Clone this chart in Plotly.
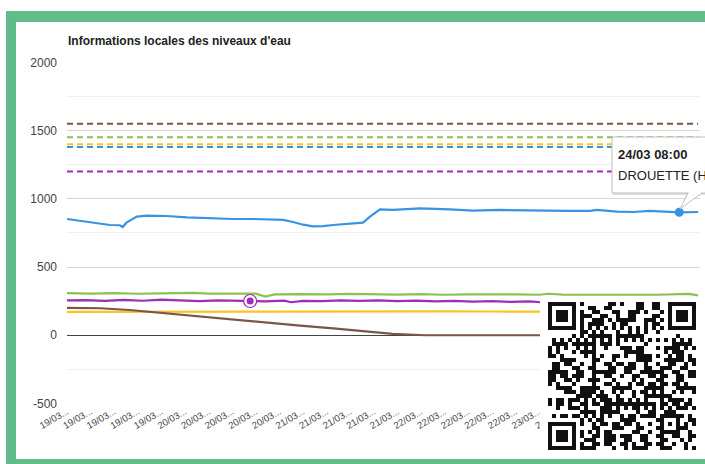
import plotly.graph_objects as go
import pandas as pd

W, H = 705, 464
T0 = pd.Timestamp("2024-03-19 00:00")

title_text = "Informations locales des niveaux d'eau"
tooltip_time = "24/03 08:00"
tooltip_series = "DROUETTE (Hauteur)"

# ---- data (hours since 19/03 00:00, values) ----
blue_h = [0, 4.9, 7.0, 9.1, 11.2, 11.8, 12.6, 13.3, 14.8, 16.9, 21.1, 25.4, 29.6, 35.2, 39.4,
          43.6, 45.8, 47.9, 50.0, 52.1, 54.2, 56.4, 59.3, 62.7, 64.2, 66.3, 69.1, 74.8, 81.1,
          86.0, 91.7, 98.7, 105.9, 110.8, 112.3, 116.5, 119.9, 123.5, 129.7, 133.7]
blue_v = [852, 828, 815, 808, 806, 793, 825, 840, 869, 876, 874, 864, 857, 852, 852,
          850, 845, 830, 810, 798, 800, 808, 818, 825, 869, 923, 918, 930, 923,
          913, 918, 913, 911, 911, 918, 906, 903, 911, 901, 903]

green_h = [0, 5, 10, 15, 20, 26.7, 30, 35, 40, 42, 44, 50, 55, 60, 65, 70, 75, 80, 85, 90,
           95, 100, 102, 105, 110, 115, 120, 125, 131.8, 133.7]
green_v = [308, 305, 309, 304, 307, 311, 305, 303, 305, 284, 300, 302, 299, 303, 300, 298, 301,
           297, 300, 297, 299, 297, 304, 298, 297, 298, 296, 297, 303, 292]

purple_h = [0, 4, 8, 12, 16, 20, 24, 28, 32, 36, 38.8, 42, 46, 47.5, 50, 54, 58, 62, 66, 70,
            74, 78, 82, 86, 90, 94, 98, 101]
purple_v = [256, 258, 252, 259, 253, 261, 255, 250, 255, 252, 251, 249, 254, 242, 252, 250, 256,
            252, 255, 250, 254, 248, 252, 246, 250, 245, 248, 240]

yellow_h = [0, 10, 20, 30, 40, 50, 60, 70, 80, 90, 101]
yellow_v = [172, 173, 174, 174, 175, 175, 176, 175, 175, 174, 173]

brown_h = [0, 7, 13.3, 17.6, 28.2, 38.8, 49.4, 56.4, 62.1, 69, 75.8, 101]
brown_v = [200, 198, 185, 171, 136, 102, 71, 51, 34, 10, 0, 0]

# alert thresholds (dashed)
seuil_brown = 1550
seuil_green = 1450
seuil_yellow = 1400
seuil_blue = 1380
seuil_purple = 1200
seuil_h = [0, 133.7]

# highlighted points
hover_blue = (129.7, 901)
hover_purple = (38.8, 251)

tick_hours = [0, 5, 10, 15, 20, 25, 30, 35, 40, 45, 50, 55, 60, 65, 70, 75, 80, 85, 90, 95,
              100, 105, 110, 115, 120, 125, 130]
tick_labels = (["19/03..."] * 5 + ["20/03..."] * 5 + ["21/03..."] * 5 + ["22/03..."] * 5
               + ["23/03..."] * 4 + ["24/03..."] * 3)

y_ticks = [-500, 0, 500, 1000, 1500, 2000]
y_labels = ["-500", "0", "500", "1000", "1500", "2000"]

# ---- colours ----
C_BLUE = "#3a93e0"
C_GREEN = "#8cc152"
C_PURPLE = "#a12cb8"
C_YELLOW = "#f9c321"
C_BROWN = "#7a5548"
C_FRAME = "#61bb8b"

FONT = "Liberation Sans, Arial, sans-serif"


def t(hs):
    return [T0 + pd.Timedelta(hours=h) for h in hs]


def px(x):
    return x / W


def py(y):
    return 1 - y / H


fig = go.Figure()

# dashed thresholds
for val, col in [(seuil_brown, C_BROWN), (seuil_green, C_GREEN), (seuil_yellow, C_YELLOW),
                 (seuil_blue, C_BLUE), (seuil_purple, C_PURPLE)]:
    fig.add_trace(go.Scatter(x=t(seuil_h), y=[val, val], mode="lines",
                             line=dict(color=col, width=2, dash="6px,4px"),
                             hoverinfo="skip", showlegend=False))

for hs, vs, col in [(green_h, green_v, C_GREEN), (purple_h, purple_v, C_PURPLE),
                    (yellow_h, yellow_v, C_YELLOW), (brown_h, brown_v, C_BROWN),
                    (blue_h, blue_v, C_BLUE)]:
    fig.add_trace(go.Scatter(x=t(hs), y=vs, mode="lines",
                             line=dict(color=col, width=2.2),
                             hoverinfo="skip", showlegend=False))

# highlighted markers
fig.add_trace(go.Scatter(x=t([hover_purple[0]]), y=[hover_purple[1]], mode="markers",
                         marker=dict(size=13, color="white", line=dict(color=C_PURPLE, width=1.2)),
                         hoverinfo="skip", showlegend=False))
fig.add_trace(go.Scatter(x=t([hover_purple[0]]), y=[hover_purple[1]], mode="markers",
                         marker=dict(size=7, color=C_PURPLE),
                         hoverinfo="skip", showlegend=False))
fig.add_trace(go.Scatter(x=t([hover_blue[0]]), y=[hover_blue[1]], mode="markers",
                         marker=dict(size=9, color=C_BLUE),
                         hoverinfo="skip", showlegend=False))

# ---- QR code overlay (decorative) ----
N = 37
qr = [[0] * N for _ in range(N)]
reserved = [[False] * N for _ in range(N)]


def finder(r0, c0):
    for r in range(-1, 8):
        for c in range(-1, 8):
            rr, cc = r0 + r, c0 + c
            if 0 <= rr < N and 0 <= cc < N:
                reserved[rr][cc] = True
                if 0 <= r < 7 and 0 <= c < 7:
                    ring = max(abs(r - 3), abs(c - 3))
                    qr[rr][cc] = 1 if ring in (0, 1, 3) else 0


finder(0, 0)
finder(0, N - 7)
finder(N - 7, 0)
for i in range(8, N - 8):
    qr[6][i] = 1 if i % 2 == 0 else 0
    qr[i][6] = 1 if i % 2 == 0 else 0
    reserved[6][i] = True
    reserved[i][6] = True
for r in range(-2, 3):
    for c in range(-2, 3):
        ring = max(abs(r), abs(c))
        qr[30 + r][30 + c] = 1 if ring in (0, 2) else 0
        reserved[30 + r][30 + c] = True
for r in range(N):
    for c in range(N):
        if not reserved[r][c]:
            hsh = ((r * 131 + c * 977 + r * c * 37 + 12345) * 2654435761) % 4294967296
            qr[r][c] = (hsh >> 29) & 1 if (hsh >> 20) & 3 else (hsh >> 27) & 1

qr_full = [[0] * (N + 3)] + [[0, 0] + row + [0] for row in qr] + [[0] * (N + 3)]

fig.add_trace(go.Heatmap(z=qr_full, xaxis="x2", yaxis="y2",
                         colorscale=[[0, "#ffffff"], [1, "#111111"]], zmin=0, zmax=1,
                         showscale=False, hoverinfo="skip"))

# ---- layout ----
shapes = []
# tooltip
shapes.append(dict(type="rect", xref="paper", yref="paper", x0=px(613), x1=px(715),
                   y0=py(195), y1=py(139), fillcolor="rgba(0,0,0,0.12)", line=dict(width=0)))
shapes.append(dict(type="rect", xref="paper", yref="paper", x0=px(612), x1=px(715),
                   y0=py(193), y1=py(137), fillcolor="white", line=dict(color="#bdbdbd", width=1)))
shapes.append(dict(type="path", xref="paper", yref="paper",
                   path=f"M {px(688)} {py(193)} L {px(680)} {py(209)} L {px(702)} {py(193)}",
                   fillcolor="white", line=dict(color="#bdbdbd", width=1)))
shapes.append(dict(type="line", xref="paper", yref="paper", x0=px(689), x1=px(701),
                   y0=py(193), y1=py(193), line=dict(color="white", width=2)))
# green frame
for x0, x1, y0, y1 in [(6, 706, 11, 22), (6, 16, 11, 465), (6, 706, 459, 465)]:
    shapes.append(dict(type="rect", xref="paper", yref="paper", x0=px(x0), x1=px(x1),
                       y0=py(y1), y1=py(y0), fillcolor=C_FRAME, line=dict(width=0)))

annotations = [
    dict(text=f"<b>{title_text}</b>", xref="paper", yref="paper", x=px(66), y=py(41),
         xanchor="left", yanchor="middle", showarrow=False,
         font=dict(family=FONT, size=12, color="#222")),
    dict(text=f"<b>{tooltip_time}</b>", xref="paper", yref="paper", x=px(616), y=py(154),
         xanchor="left", yanchor="middle", showarrow=False,
         font=dict(family=FONT, size=13, color="#222")),
    dict(text=tooltip_series, xref="paper", yref="paper", x=px(616), y=py(175),
         xanchor="left", yanchor="middle", showarrow=False,
         font=dict(family=FONT, size=13, color="#222")),
]

fig.update_layout(
    width=W, height=H, autosize=False,
    margin=dict(l=0, r=0, t=0, b=0),
    paper_bgcolor="white", plot_bgcolor="white",
    showlegend=False,
    xaxis=dict(domain=[px(67), px(700)], type="date",
               range=[T0, T0 + pd.Timedelta(hours=134.1)],
               tickmode="array", tickvals=t(tick_hours), ticktext=tick_labels,
               tickangle=-30, tickfont=dict(family=FONT, size=9.5, color="#444"),
               showgrid=False, zeroline=False, showline=False, ticks="",
               automargin=False, fixedrange=True),
    yaxis=dict(domain=[py(403.5), py(62.3)], range=[-500, 2000],
               tickmode="array", tickvals=y_ticks, ticktext=y_labels,
               tickfont=dict(family=FONT, size=12, color="#444"),
               showgrid=True, gridcolor="#d6d6d6", gridwidth=1,
               minor=dict(tickmode="linear", tick0=0, dtick=250, showgrid=True,
                          gridcolor="#efefef", gridwidth=1),
               zeroline=True, zerolinecolor="#444", zerolinewidth=1.2,
               showline=False, ticks="", ticklabelstandoff=9,
               automargin=False, fixedrange=True),
    xaxis2=dict(domain=[px(540), px(700)], range=[-0.5, N + 2.5], visible=False,
                anchor="y2", fixedrange=True),
    yaxis2=dict(domain=[py(454), py(298)], range=[N + 1.5, -0.5], visible=False,
                anchor="x2", fixedrange=True),
    shapes=shapes,
    annotations=annotations,
)

fig.write_html("out.html", config={"displayModeBar": False},
               post_script="document.body.style.margin='0px';document.body.style.padding='0px';"
                           "document.body.style.overflow='hidden';")
